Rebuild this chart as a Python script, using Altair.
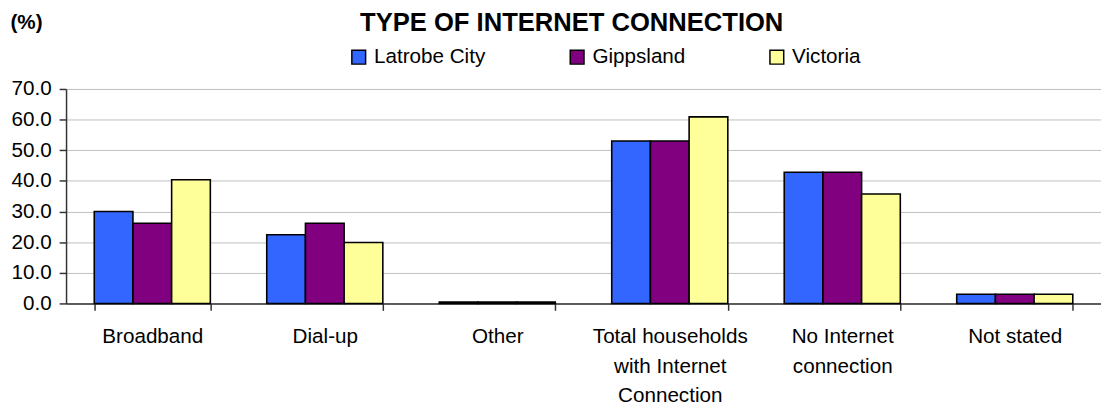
import altair as alt
import pandas as pd

categories = [
    "Broadband",
    "Dial-up",
    "Other",
    "Total households with Internet Connection",
    "No Internet connection",
    "Not stated",
]
category_lines = [
    ["Broadband"],
    ["Dial-up"],
    ["Other"],
    ["Total households", "with Internet", "Connection"],
    ["No Internet", "connection"],
    ["Not stated"],
]
regions = ["Latrobe City", "Gippsland", "Victoria"]
latrobe = [30.0, 22.4, 0.5, 53.0, 42.8, 3.0]
gippsland = [26.2, 26.2, 0.5, 53.0, 42.8, 3.0]
victoria = [40.4, 19.9, 0.5, 60.9, 35.7, 3.0]
colors = ["#3366FF", "#800080", "#FFFF99"]
y_ticks = [0, 10, 20, 30, 40, 50, 60, 70]

rows = []
for reg, vals in zip(regions, [latrobe, gippsland, victoria]):
    for cat, v in zip(categories, vals):
        rows.append({"category": cat, "region": reg, "value": v})
df = pd.DataFrame(rows)

# label expression: map each category to its multi-line label
expr = "datum.label"
for cat, lines in reversed(list(zip(categories, category_lines))):
    arr = "[" + ",".join("'" + l + "'" for l in lines) + "]"
    expr = f"datum.label == '{cat}' ? {arr} : ({expr})"

FONT = "Liberation Sans"

chart = alt.Chart(df).mark_bar(stroke="black", strokeWidth=1.6).encode(
    x=alt.X(
        "category:N",
        sort=categories,
        title=None,
        scale=alt.Scale(paddingInner=0.327, paddingOuter=0.1635),
        axis=alt.Axis(
            labelAngle=0,
            tickBand="extent",
            labelExpr=expr,
            labelFont=FONT,
            labelFontSize=21,
            labelColor="black",
            labelLineHeight=30,
            labelBaseline="top",
            labelPadding=16,
            tickSize=7,
            tickColor="#333333",
            tickWidth=1.5,
            domainColor="#333333",
            domainWidth=1.5,
            grid=False,
        ),
    ),
    xOffset=alt.XOffset(
        "region:N", sort=regions, scale=alt.Scale(paddingInner=0, paddingOuter=0)
    ),
    y=alt.Y(
        "value:Q",
        scale=alt.Scale(domain=[0, 70], nice=False),
        axis=alt.Axis(
            values=y_ticks,
            format=".1f",
            title="(%)",
            titleAngle=0,
            titleFont=FONT,
            titleFontSize=21,
            titleFontWeight="bold",
            titleColor="black",
            titleAlign="left",
            titleBaseline="alphabetic",
            titleX=-57,
            titleY=-61,
            labelFont=FONT,
            labelFontSize=21,
            labelColor="black",
            labelPadding=8,
            tickSize=7,
            tickColor="#333333",
            tickWidth=1.5,
            domainColor="#333333",
            domainWidth=1.5,
            grid=True,
            gridColor="#c0c0c0",
            gridWidth=1,
        ),
    ),
    color=alt.Color(
        "region:N",
        sort=regions,
        scale=alt.Scale(domain=regions, range=colors),
        legend=alt.Legend(
            title=None,
            orient="none",
            direction="horizontal",
            legendX=287,
            legendY=-43,
            symbolType="square",
            symbolSize=196,
            symbolStrokeColor="black",
            symbolStrokeWidth=1.5,
            symbolOpacity=1,
            labelFont=FONT,
            labelFontSize=21,
            labelColor="black",
            labelOffset=5,
            columnPadding=82,
            padding=0,
        ),
    ),
).properties(
    width=1052,
    height=218,
    title=alt.TitleParams(
        "TYPE OF INTERNET CONNECTION",
        font=FONT,
        fontSize=26,
        fontWeight="bold",
        color="black",
        anchor="middle",
        baseline="alphabetic",
        dx=-12,
        dy=45,
        offset=0,
    ),
    autosize=alt.AutoSizeParams(type="none"),
    padding={"left": 59, "top": 79, "right": 0, "bottom": 105},
).configure_view(
    stroke="#808080", strokeWidth=1.5
).configure(background="white")

chart.save("out.html", embed_options={"renderer": "svg", "actions": False})
